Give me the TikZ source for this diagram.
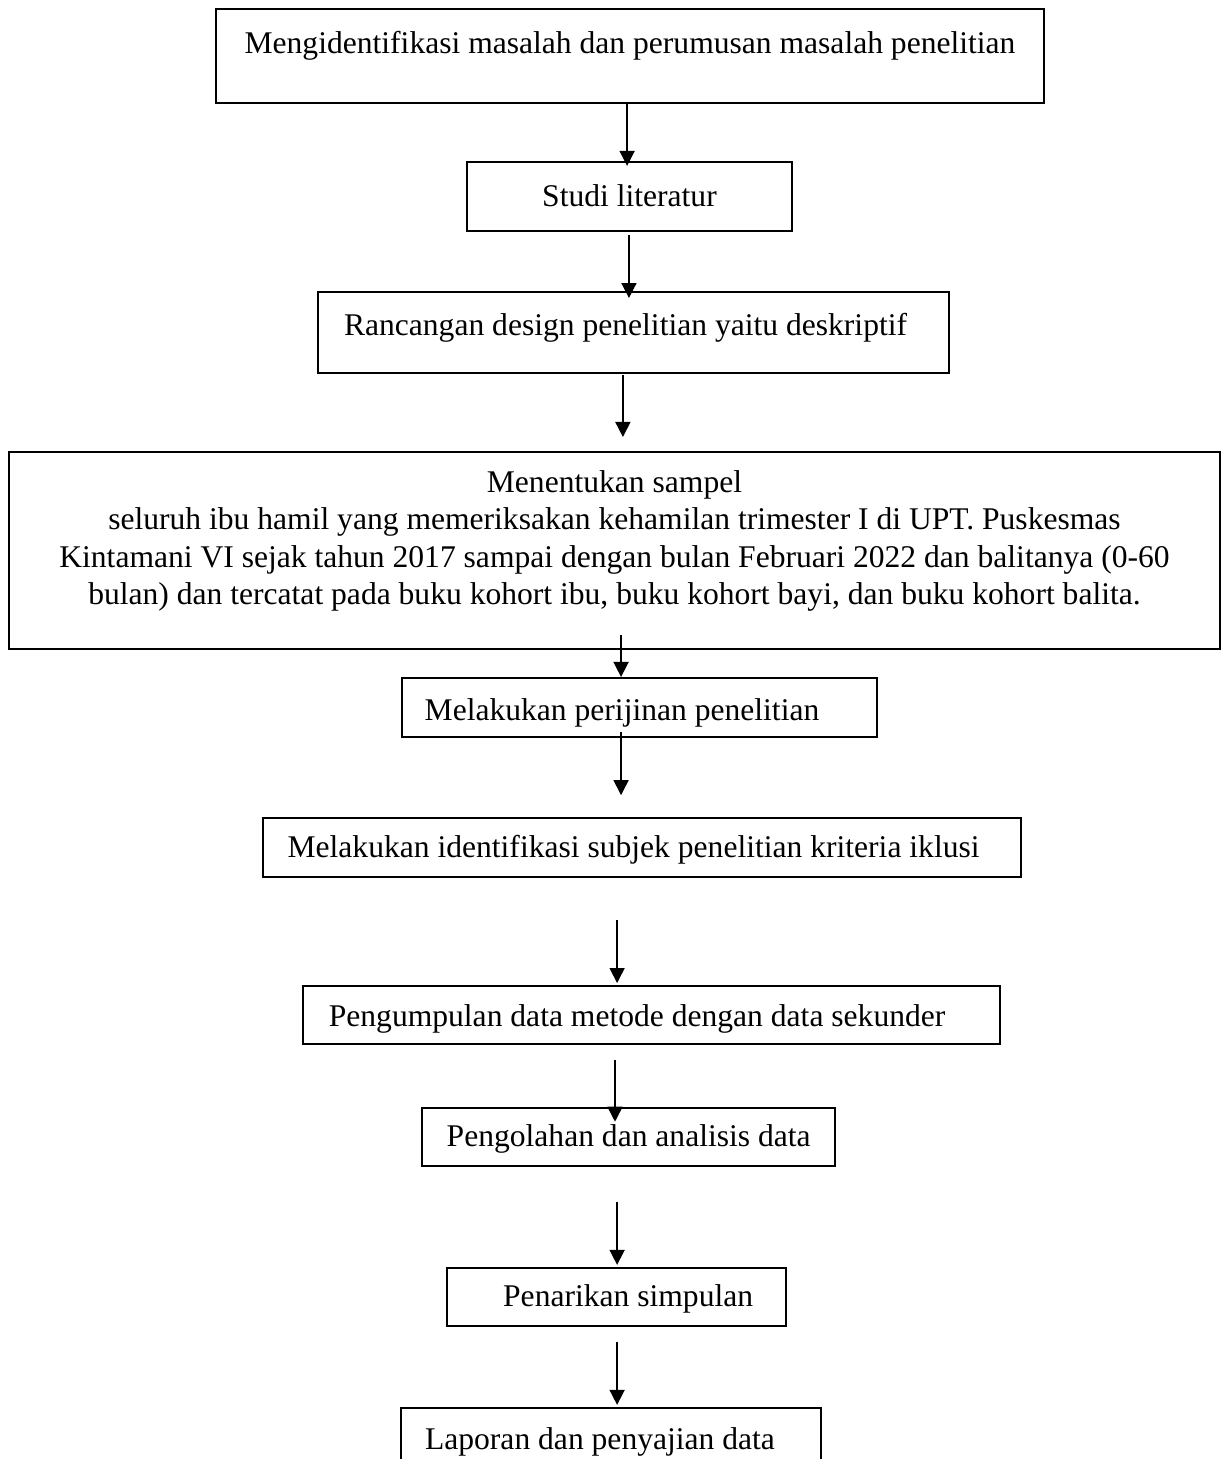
\documentclass[tikz,border=0pt]{standalone}
\usepackage{fontspec}
\setmainfont{Liberation Serif}
\usepackage{tikz}
\usetikzlibrary{arrows.meta, positioning}

\tikzset{
	box/.style={draw, line width=0.8pt, inner sep=0pt, outer sep=0pt, font=\fontsize{12pt}{14.2pt}\selectfont},
	one/.style={text height=9.3pt, text depth=1.7pt},
	flow/.style={draw, line width=0.6pt, -{Triangle[length=5.7pt, width=5.7pt]}},
}

\begin{document}
\begin{tikzpicture}
	\useasboundingbox (0,0) rectangle (464.74pt,-554.42pt);
	\clip (0,0) rectangle (464.74pt,-554.42pt);

	\node [box, minimum width=314.6pt, minimum height=35.7pt, text height=4.4pt, text depth=6.6pt] (b1) at (239.4pt,-21.3pt) {Mengidentifikasi masalah dan perumusan masalah penelitian};
	\node [box, one, below=22.4pt of b1, xshift=-0.2pt, minimum width=123.5pt, minimum height=26.2pt] (b2) {Studi literatur};
	\node [box, below=23.2pt of b2, xshift=1.5pt, minimum width=239.8pt, minimum height=30.8pt, text height=6.45pt, text depth=4.55pt] (b3) {Rancangan design penelitian yaitu deskriptif\hspace*{6pt}};
	\node [box, align=center, below=30pt of b3, xshift=-7.2pt, minimum width=460.2pt, minimum height=74.9pt] (b4) {Menentukan sampel\\
		seluruh ibu hamil yang memeriksakan kehamilan trimester I di UPT. Puskesmas\\
		Kintamani VI sejak tahun 2017 sampai dengan bulan Februari 2022 dan balitanya (0-60\\
		bulan) dan tercatat pada buku kohort ibu, buku kohort bayi, dan buku kohort balita.\rule[-9.8pt]{0pt}{0pt}};
	\node [box, below=11pt of b4, xshift=9.5pt, minimum width=180.5pt, minimum height=22.4pt, text height=10.3pt, text depth=0.7pt] (b5) {Melakukan perijinan penelitian\hspace*{13.3pt}};
	\node [box, one, below=30.8pt of b5, xshift=1pt, minimum width=288pt, minimum height=22.4pt] (b6) {Melakukan identifikasi subjek penelitian kriteria iklusi\hspace*{6.5pt}};
	\node [box, below=41.4pt of b6, xshift=3.6pt, minimum width=264.9pt, minimum height=22pt, text height=10.1pt, text depth=0.9pt] (b7) {Pengumpulan data metode dengan data sekunder\hspace*{11pt}};
	\node [box, one, below=24.3pt of b7, xshift=-8.7pt, minimum width=156.9pt, minimum height=22pt] (b8) {Pengolahan dan analisis data};
	\node [box, one, below=38.8pt of b8, xshift=-4.6pt, minimum width=128.8pt, minimum height=22pt] (b9) {\hspace*{8.8pt}Penarikan simpulan};
	\node [box, below=31.2pt of b9, xshift=-2.1pt, minimum width=159.6pt, minimum height=22pt, text height=10.4pt, text depth=0.6pt] (b10) {Laporan dan penyajian data\hspace*{8.4pt}};

	\draw [flow, shorten >=-1.5pt] ([xshift=-1.1pt]b1.south) -- ([xshift=-1.1pt]b1.south |- b2.north);
	\draw [flow, shorten <=1.5pt, shorten >=-2.3pt] ([xshift=-0.2pt]b2.south) -- ([xshift=-0.2pt]b2.south |- b3.north);
	\draw [flow, shorten <=0.8pt, shorten >=5.7pt] ([xshift=-4pt]b3.south) -- ([xshift=-4pt]b3.south |- b4.north);
	\draw [flow, shorten <=-5.3pt, shorten >=0.4pt] ([xshift=2.5pt]b4.south) -- ([xshift=2.5pt]b4.south |- b5.north);
	\draw [flow, shorten <=-1.9pt, shorten >=8.7pt] ([xshift=-7pt]b5.south) -- ([xshift=-7pt]b5.south |- b6.north);
	\draw [flow, shorten <=16.3pt, shorten >=1.1pt] ([xshift=-9.5pt]b6.south) -- ([xshift=-9.5pt]b6.south |- b7.north);
	\draw [flow, shorten <=6.1pt, shorten >=-5.3pt] ([xshift=-13.9pt]b7.south) -- ([xshift=-13.9pt]b7.south |- b8.north);
	\draw [flow, shorten <=13.7pt, shorten >=1.1pt] ([xshift=-4.4pt]b8.south) -- ([xshift=-4.4pt]b8.south |- b9.north);
	\draw [flow, shorten <=6.1pt, shorten >=1.1pt] ([xshift=0.2pt]b9.south) -- ([xshift=0.2pt]b9.south |- b10.north);
\end{tikzpicture}
\end{document}
